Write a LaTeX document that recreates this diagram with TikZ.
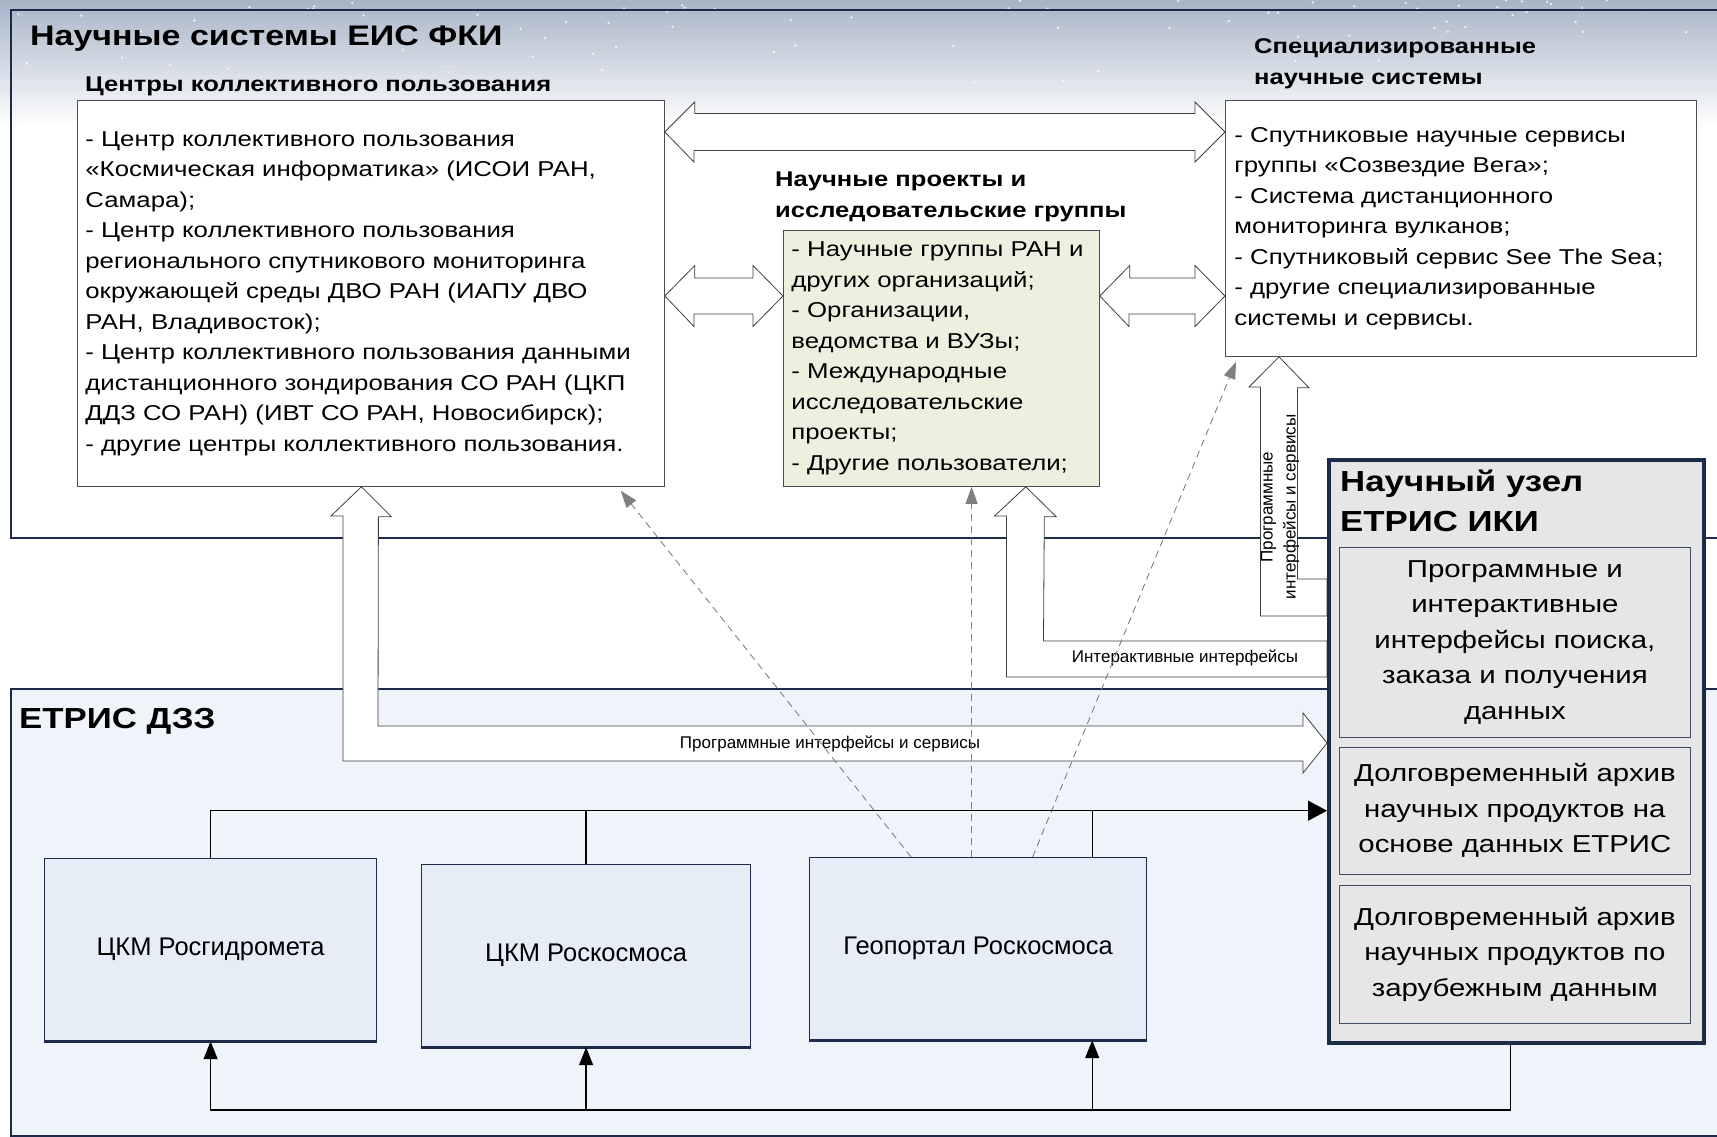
\documentclass[tikz,border=0pt]{standalone}
\usepackage{fontspec}
\setmainfont{Liberation Sans}
\newfontfamily\widesans{Liberation Sans}[FakeStretch=1.2]
\usetikzlibrary{positioning,arrows.meta}

\definecolor{navy}{HTML}{1C2B48}
\definecolor{panelblue}{HTML}{EFF3FA}
\definecolor{boxblue}{HTML}{E7EDF7}
\definecolor{resgreen}{HTML}{EBF1DE}
\definecolor{nodegray}{HTML}{E6E6E6}
\definecolor{skytop}{HTML}{A9B5C7}

\pgfdeclarelayer{bg}
\pgfdeclarelayer{arrowlayer}
\pgfsetlayers{bg,arrowlayer,main}

\begin{document}
\begin{tikzpicture}[x=1pt, y=-1pt,
    listbox/.style={draw=black!70, fill=white, line width=0.8pt, anchor=north west, inner xsep=8pt, inner ysep=0pt, align=left, font=\widesans\fontsize{21.5}{30.5}\selectfont},
    headtext/.style={inner sep=0pt, align=left, font=\widesans\bfseries\fontsize{21.3}{31}\selectfont},
    bigtitle/.style={anchor=base west, inner sep=0pt, align=left, font=\widesans\bfseries\fontsize{29}{40}\selectfont},
    subbox/.style={draw=navy!85, fill=nodegray, line width=0.8pt, minimum width=351pt, align=center, font=\widesans\fontsize{24.5}{35.5}\selectfont},
    cmbox/.style={draw=navy, fill=boxblue, line width=1.2pt, anchor=north west, minimum width=332pt, minimum height=182pt, font=\fontsize{25.5}{30}\selectfont},
    hollow/.style={draw=black!75, fill=white, line width=0.8pt},
    dashlink/.style={draw=black!50, dash pattern=on 7pt off 5pt, line width=0.9pt, -{Triangle[length=17pt,width=12pt]}},
    busline/.style={draw=black, line width=1.3pt},
    smalllabel/.style={inner sep=0pt, font=\fontsize{17}{23}\selectfont},
  ]
    \useasboundingbox (0,0) rectangle (1717,1136);

    % background and panels
    \begin{pgfonlayer}{bg}
      \fill[white] (0,0) rectangle (1717,1136);
      \foreach \i in {0,...,24}{
        \pgfmathsetmacro{\mixval}{100-4*\i}
        \fill[skytop!\mixval!white] (0,\i*5) rectangle (1717,\i*5+5.5);
      }
      \pgfmathsetseed{12}
      \foreach \s in {1,...,80}{
        \pgfmathsetmacro{\sx}{1717*rnd}
        \pgfmathsetmacro{\sy}{90*rnd*rnd}
        \fill[white, opacity=0.8] (\sx,\sy) circle (1.3);
      }
      \draw[navy, line width=1.2pt] (1717,10) -- (11,10) -- (11,538) -- (1717,538);
      \filldraw[fill=panelblue, draw=navy, line width=1.2pt] (1717,689) -- (11,689) -- (11,1136) -- (1717,1136);
    \end{pgfonlayer}

    %Nodes
    \node[bigtitle, font=\widesans\bfseries\fontsize{28.3}{40}\selectfont] (title) at (30,45) {Научные системы ЕИС ФКИ};
    \node[bigtitle] (dzztitle) at (19,728) {ЕТРИС ДЗЗ};

    \node[listbox, minimum width=587pt, minimum height=386pt, text width=571pt] (ckp) at (77,100)
      {- Центр коллективного пользования\\
       «Космическая информатика» (ИСОИ РАН,\\
       Самара);\\
       - Центр коллективного пользования\\
       регионального спутникового мониторинга\\
       окружающей среды ДВО РАН (ИАПУ ДВО\\
       РАН, Владивосток);\\
       - Центр коллективного пользования данными\\
       дистанционного зондирования СО РАН (ЦКП\\
       ДДЗ СО РАН) (ИВТ СО РАН, Новосибирск);\\
       - другие центры коллективного пользования.};
    \node[headtext, above right=4pt and 8pt of ckp.north west] (ckphead) {Центры коллективного пользования};

    \node[listbox, fill=resgreen, inner xsep=8pt, minimum width=316pt, minimum height=256pt, text width=300pt] (res) at (783,230)
      {- Научные группы РАН и\\
       других организаций;\\
       - Организации,\\
       ведомства и ВУЗы;\\
       - Международные\\
       исследовательские\\
       проекты;\\
       - Другие пользователи;};
    \node[headtext, anchor=north west] (reshead) at (775,172) {Научные проекты и\\исследовательские группы};

    \node[listbox, inner xsep=9pt, minimum width=471pt, minimum height=256pt, text width=453pt] (spec) at (1225,100)
      {- Спутниковые научные сервисы\\
       группы «Созвездие Вега»;\\
       - Система дистанционного\\
       мониторинга вулканов;\\
       - Спутниковый сервис See The Sea;\\
       - другие специализированные\\
       системы и сервисы.};
    \node[headtext, anchor=north west] (spechead) at (1254,38) {Специализированные\\научные системы};

    % node ETRIS IKI
    \node[draw=navy, line width=3.5pt, fill=nodegray, anchor=north west, minimum width=375pt, minimum height=583pt, inner sep=0pt] (uzel) at (1327,458) {};
    \node[bigtitle, anchor=north west] (uzelhead) at ([shift={(13pt,-12pt)}]uzel.north west) {Научный узел\\ЕТРИС ИКИ};
    \node[subbox, anchor=north west, minimum height=190pt] (sub1) at (1339,547)
      {Программные и\\интерактивные\\интерфейсы поиска,\\заказа и получения\\данных};
    \node[subbox, minimum height=127pt, below=9pt of sub1] (sub2)
      {Долговременный архив\\научных продуктов на\\основе данных ЕТРИС};
    \node[subbox, minimum height=138pt, below=10pt of sub2] (sub3)
      {Долговременный архив\\научных продуктов по\\зарубежным данным};

    % ETRIS DZZ centres
    \node[cmbox] (cmrg) at (44,858) {ЦКМ Росгидромета};
    \node[cmbox, minimum width=329pt] (cmrk) at (421,864) {ЦКМ Роскосмоса};
    \node[cmbox, minimum width=337pt] (geo) at (809,857) {Геопортал Роскосмоса};
    \foreach \b in {cmrg,cmrk,geo}
      \draw[navy, line width=3pt] (\b.south west) -- (\b.south east);

    % block arrows
    \begin{pgfonlayer}{arrowlayer}
      \draw[hollow] (ckp.east |- 0,132) -- ++(30,-30) -- ++(0,11.5) -- (1195,113.5) -- (1195,102)
        -- (spec.west |- 0,132) -- (1195,162) -- (1195,150.5) -- (694,150.5) -- (694,162) -- cycle;
      \draw[hollow] (ckp.east |- 0,296) -- ++(30,-30.5) -- ++(0,12.5) -- (753,278) -- (753,265.5)
        -- (res.west |- 0,296) -- (753,326.5) -- (753,314) -- (694,314) -- (694,326.5) -- cycle;
      \draw[hollow] (res.east |- 0,296) -- ++(30,-30.5) -- ++(0,12.5) -- (1195,278) -- (1195,265.5)
        -- (spec.west |- 0,296) -- (1195,326.5) -- (1195,314) -- (1129,314) -- (1129,326.5) -- cycle;

      \draw[hollow] ([xshift=-9.5pt]ckp.south) -- ++(30,30) -- ++(-13,0) -- (378,726) -- (1303,726)
        -- (1303,713) -- (uzel.west |- 0,743) -- (1303,773) -- (1303,761) -- (343,761) -- (343,516)
        -- (331,516) -- cycle;
      \draw[hollow] ([xshift=-74pt]res.south east) -- ++(30.5,30) -- ++(-12,0) -- (1043.5,641)
        -- (uzel.west |- 0,641) -- (uzel.west |- 0,677) -- (1006.5,677) -- (1006.5,516) -- (994.5,516) -- cycle;
      \draw[hollow] ([xshift=54pt]spec.south west) -- ++(30,31) -- ++(-11.5,0) -- (1297.5,579)
        -- (uzel.west |- 0,579) -- (uzel.west |- 0,616) -- (1260.5,616) -- (1260.5,387) -- (1249,387) -- cycle;
    \end{pgfonlayer}
    \node[smalllabel] (swlbl) at (830,744) {Программные интерфейсы и сервисы};
    \node[smalllabel] (intlbl) at (1185,658) {Интерактивные интерфейсы};
    \node[smalllabel, rotate=90, align=center] (speclbl) at (1280,507) {Программные\\интерфейсы и сервисы};

    % dashed links from the geoportal
    \coordinate (geomid) at ([xshift=-6.5pt]geo.north);
    \draw[dashlink] ([xshift=-67pt]geo.north) -- ([xshift=-44pt,yshift=-4pt]ckp.south east);
    \draw[dashlink] (geomid) -- (geomid |- res.south);
    \draw[dashlink] ([xshift=54.5pt]geo.north) -- ([xshift=11pt,yshift=-5pt]spec.south west);

    % bus lines
    \coordinate (geotap) at ([xshift=-55pt]geo.north east);
    \coordinate (geoin) at ([xshift=-55pt]geo.south east);
    \draw[busline, -{Triangle[length=19pt,width=20pt]}] (cmrg.north) |- (uzel.west |- sub2.west);
    \draw[busline] (cmrk.north) -- (cmrk.north |- sub2.west);
    \draw[busline] (geotap) -- (geotap |- sub2.west);

    \draw[busline, -{Triangle[length=18pt,width=14pt]}] ([xshift=-6pt]uzel.south) -- ([xshift=-6pt]uzel.south |- 0,1110) -| (cmrg.south);
    \draw[busline, -{Triangle[length=18pt,width=14pt]}] (cmrk.south |- 0,1110) -- (cmrk.south);
    \draw[busline, -{Triangle[length=18pt,width=14pt]}] (geoin |- 0,1110) -- (geoin);
\end{tikzpicture}
\end{document}
